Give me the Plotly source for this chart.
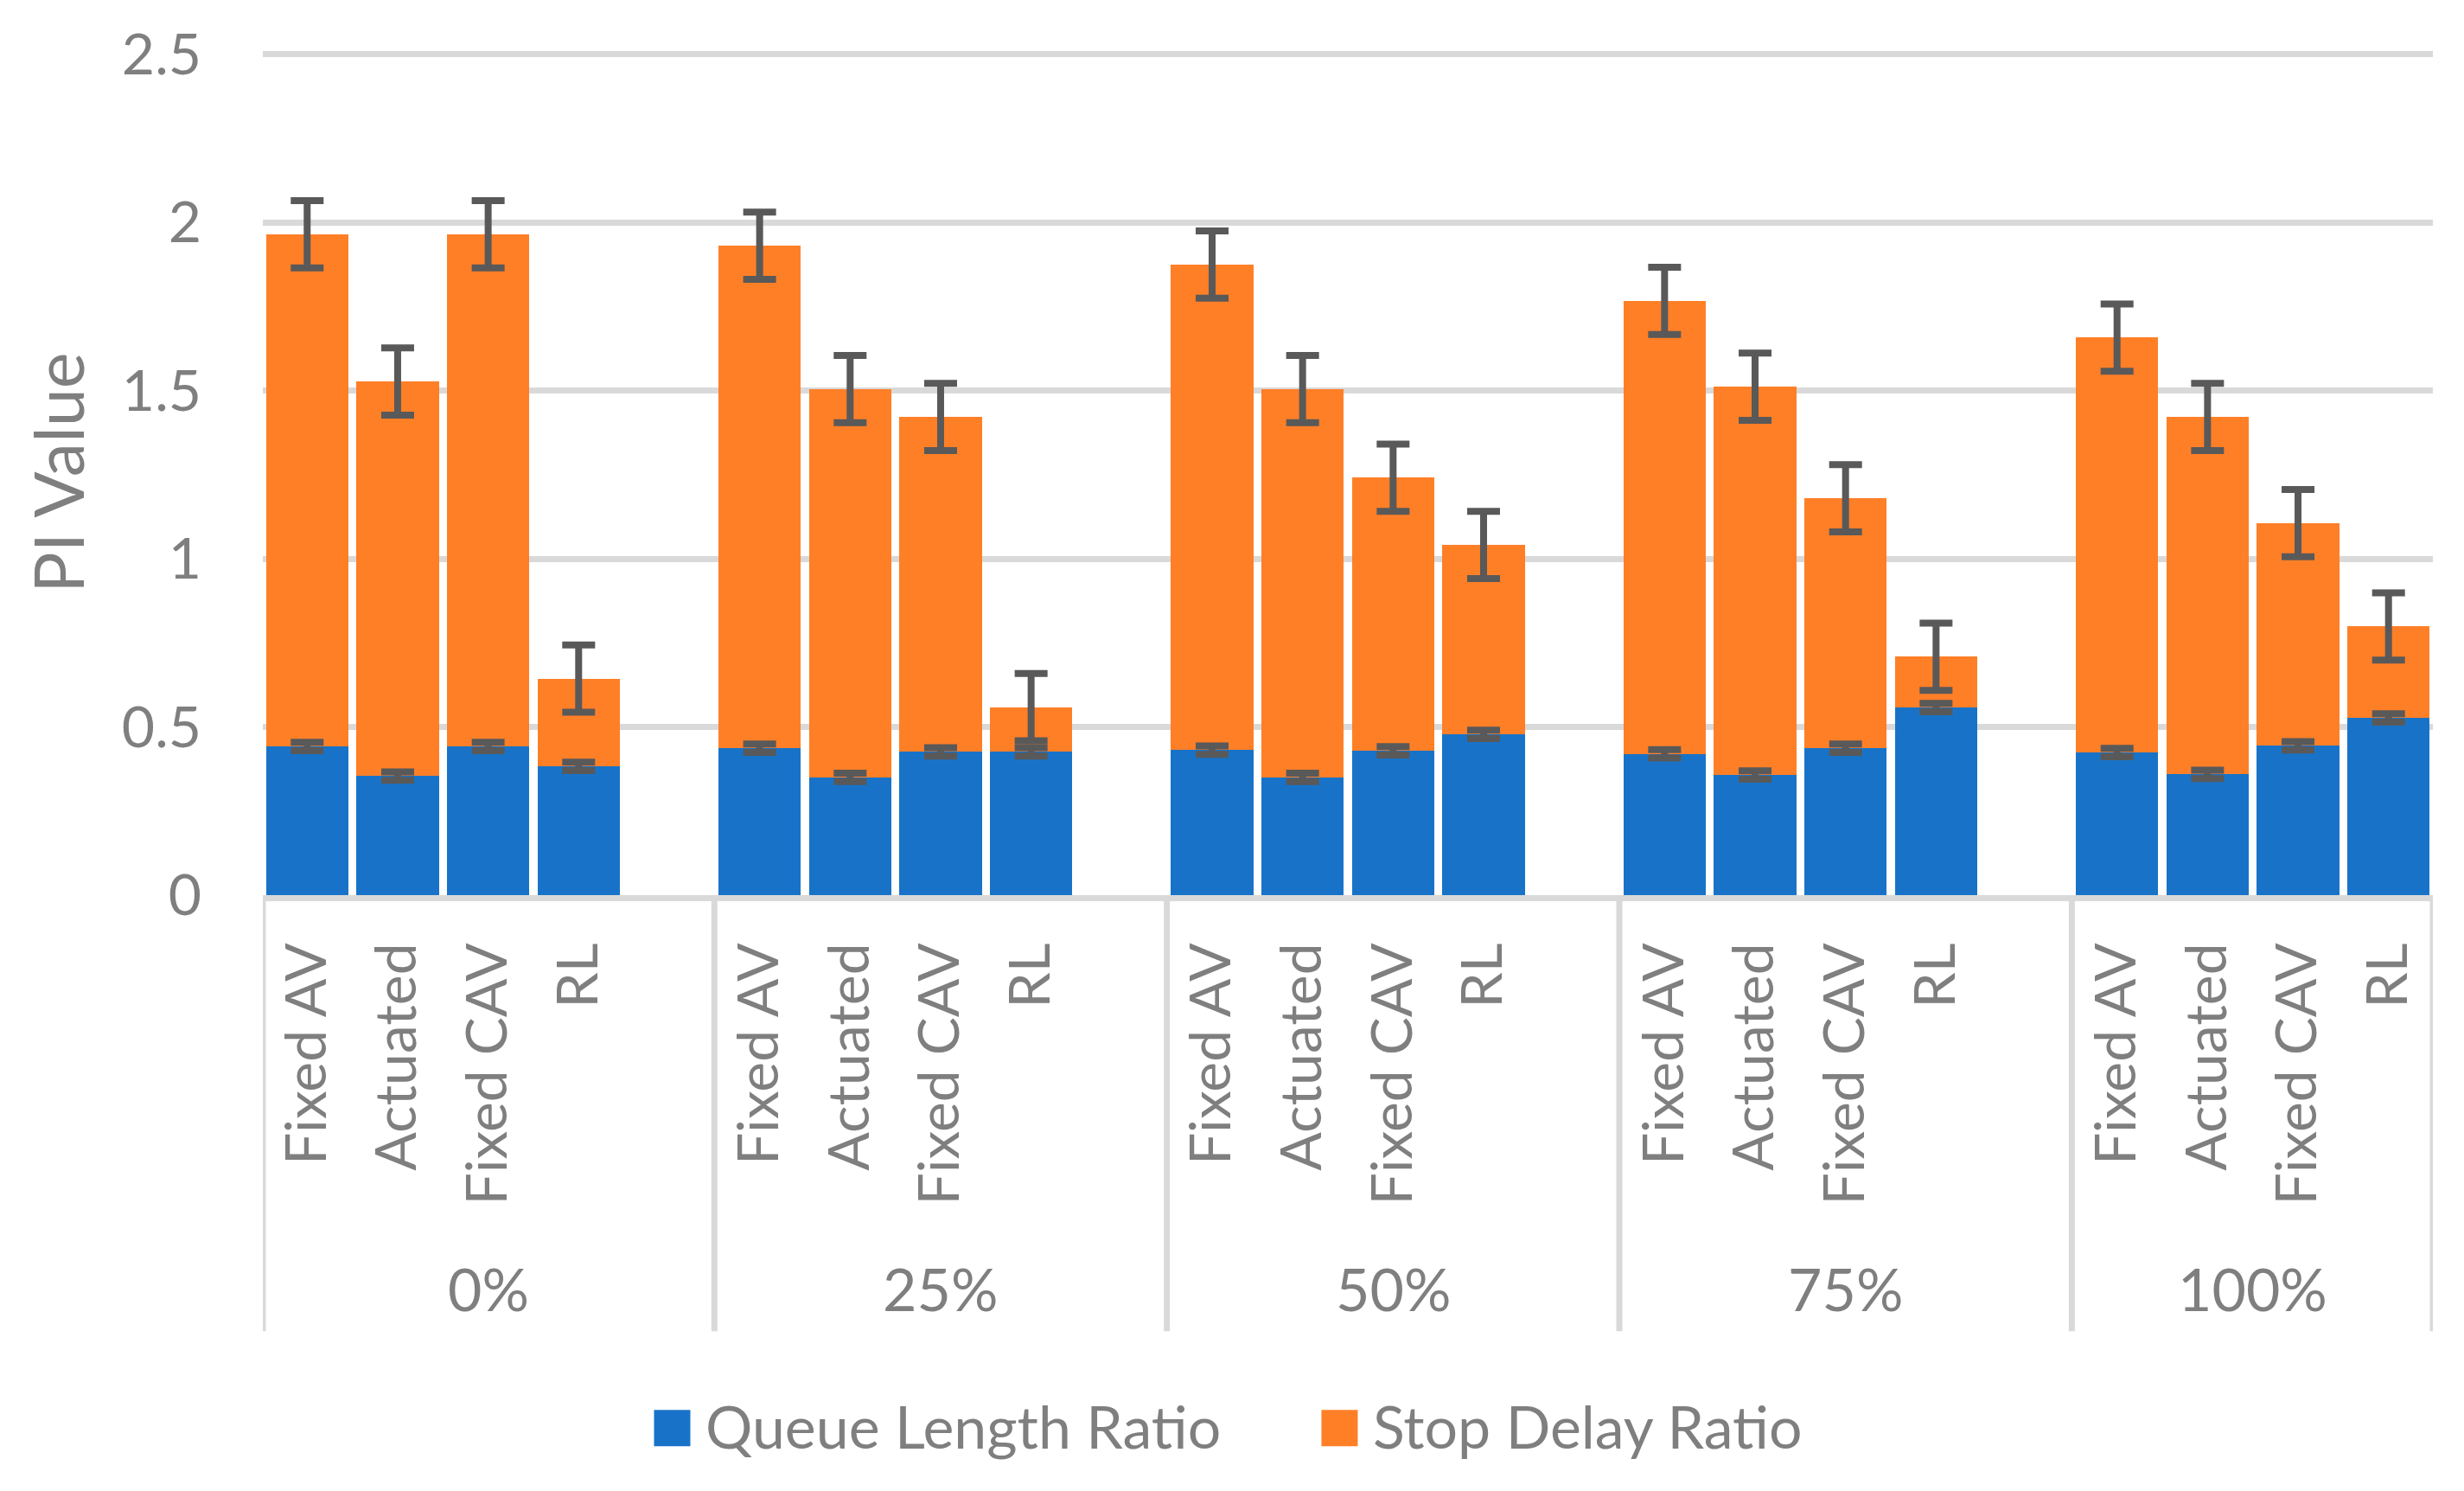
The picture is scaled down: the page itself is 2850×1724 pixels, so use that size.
import plotly.graph_objects as go

# ---------------- data ----------------
groups = ["0%", "25%", "50%", "75%", "100%"]
methods = ["Fixed AV", "Actuated", "Fixed CAV", "RL"]

queue_length = [
    [0.442, 0.354, 0.442, 0.383],   # 0%
    [0.437, 0.350, 0.426, 0.426],   # 25%
    [0.431, 0.350, 0.429, 0.478],   # 50%
    [0.420, 0.357, 0.437, 0.558],   # 75%
    [0.424, 0.359, 0.444, 0.527],   # 100%
]
stop_delay = [
    [1.523, 1.173, 1.523, 0.261],
    [1.494, 1.155, 0.996, 0.133],
    [1.444, 1.155, 0.812, 0.563],
    [1.347, 1.155, 0.743, 0.151],
    [1.234, 1.063, 0.662, 0.272],
]
queue_err = 0.0125
delay_err = 0.1

y_ticks = [0, 0.5, 1, 1.5, 2, 2.5]
y_ticktext = ["0", "0.5", "1", "1.5", "2", "2.5"]

# ---------------- style ----------------
W, H = 2850, 1724
Y_MAX = 2.51
PL, PR, PB = 303.5, 2813.6, 1034.7
UNIT = 388.8                      # px per y unit
PT = PB - UNIT * Y_MAX
BLUE = "#1873C8"
ORANGE = "#FF7F27"
GRID = "#D9D9D9"
TXT = "#7F7F7F"
ERR = "#595959"
FONT = "Lato"

slot = len(methods) + 1
xs, ticktext, q_vals, d_vals, tot_vals = [], [], [], [], []
for g in range(len(groups)):
    for i in range(len(methods)):
        xs.append(g * slot + i)
        ticktext.append(methods[i])
        q_vals.append(queue_length[g][i])
        d_vals.append(stop_delay[g][i])
        tot_vals.append(queue_length[g][i] + stop_delay[g][i])

x_lo, x_hi = -0.49, xs[-1] + 0.49


def px_x(p):
    return (p - PL) / (PR - PL)


def px_y(p):
    return (PB - p) / (PB - PT)


fig = go.Figure()
fig.add_trace(go.Bar(x=xs, y=q_vals, name="Queue Length Ratio", width=0.91,
                     marker=dict(color=BLUE, line=dict(width=0)), showlegend=False))
fig.add_trace(go.Bar(x=xs, y=d_vals, name="Stop Delay Ratio", width=0.91,
                     marker=dict(color=ORANGE, line=dict(width=0)), showlegend=False))
# error bars drawn on top of the stacked bars
fig.add_trace(go.Scatter(x=xs, y=q_vals, mode="markers",
                         marker=dict(size=1, color="rgba(0,0,0,0)"),
                         error_y=dict(type="constant", value=queue_err, color=ERR,
                                      thickness=8, width=19),
                         showlegend=False, hoverinfo="skip"))
fig.add_trace(go.Scatter(x=xs, y=tot_vals, mode="markers",
                         marker=dict(size=1, color="rgba(0,0,0,0)"),
                         error_y=dict(type="constant", value=delay_err, color=ERR,
                                      thickness=8, width=19),
                         showlegend=False, hoverinfo="skip"))

shapes = []
annotations = []
# group dividers
div_bottom = px_y(1539)
bounds = [x_lo] + [g * slot - 0.5 for g in range(1, len(groups))] + [x_hi]
for b in bounds:
    shapes.append(dict(type="line", xref="x", yref="paper", x0=b, x1=b,
                       y0=0, y1=div_bottom, line=dict(color=GRID, width=7)))
# group labels
for g, name in enumerate(groups):
    cx = (bounds[g] + bounds[g + 1]) / 2
    annotations.append(dict(text=name, x=cx, xref="x", y=px_y(1489), yref="paper",
                            showarrow=False, xanchor="center", yanchor="middle",
                            font=dict(family=FONT, size=68, color=TXT)))
# y title
annotations.append(dict(text="PI Value", x=px_x(66), xref="paper", y=px_y(547), yref="paper",
                        showarrow=False, textangle=-90, xanchor="center", yanchor="middle",
                        font=dict(family=FONT, size=79, color=TXT)))
# legend (manual, to match symbol size)
legend_items = [("Queue Length Ratio", BLUE, 756), ("Stop Delay Ratio", ORANGE, 1528)]
for label, col, lx in legend_items:
    shapes.append(dict(type="rect", xref="paper", yref="paper",
                       x0=px_x(lx), x1=px_x(lx + 42), y0=px_y(1672), y1=px_y(1630),
                       fillcolor=col, line=dict(width=0)))
    annotations.append(dict(text=label, x=px_x(lx + 58), xref="paper", y=px_y(1648), yref="paper",
                            showarrow=False, xanchor="left", yanchor="middle",
                            font=dict(family=FONT, size=68, color=TXT)))

fig.update_layout(
    width=W, height=H,
    barmode="stack",
    plot_bgcolor="white", paper_bgcolor="white",
    margin=dict(l=PL, r=W - PR, t=PT, b=H - PB, pad=0),
    font=dict(family=FONT, color=TXT, size=65),
    showlegend=False,
    shapes=shapes, annotations=annotations,
    xaxis=dict(range=[x_lo, x_hi], tickmode="array", tickvals=xs, ticktext=ticktext,
               tickangle=-90, showgrid=False, zeroline=False, showline=True,
               linecolor=GRID, linewidth=7, ticks="", ticklabelstandoff=22,
               tickfont=dict(family=FONT, size=66, color=TXT)),
    yaxis=dict(range=[0, Y_MAX], tickmode="array", tickvals=y_ticks, ticktext=y_ticktext,
               showgrid=True, gridcolor=GRID, gridwidth=7, zeroline=False, showline=False,
               ticks="", ticklabelstandoff=70,
               tickfont=dict(family=FONT, size=66, color=TXT)),
)

fig.write_html("out.html", config={"displayModeBar": False},
               post_script="document.body.style.margin='0';document.body.style.padding='0';")
